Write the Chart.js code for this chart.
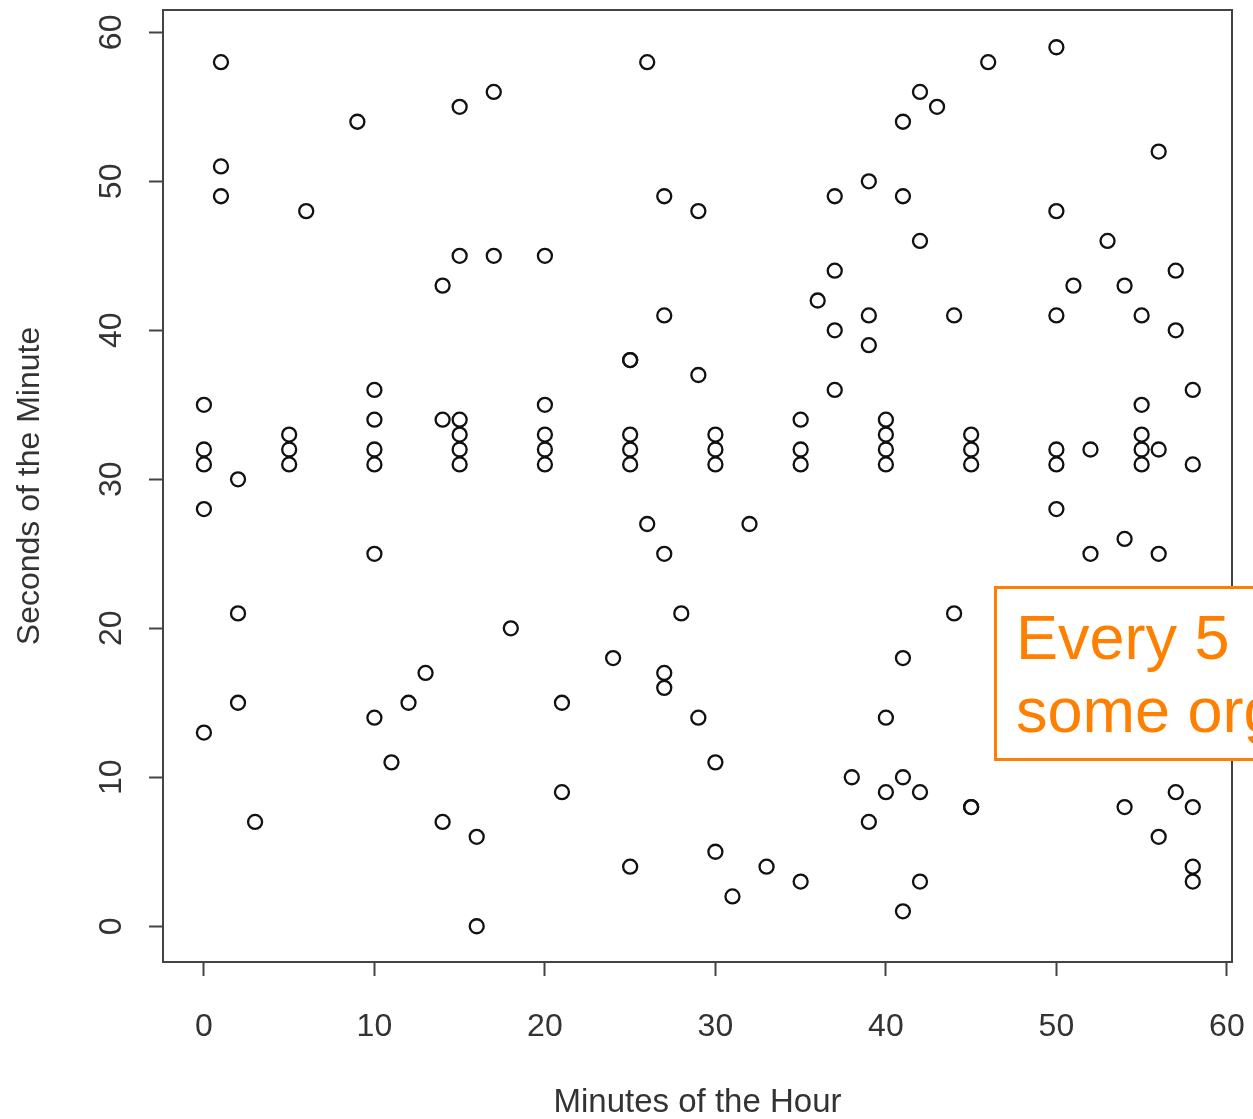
<!DOCTYPE html>
<html>
<head>
<meta charset="utf-8">
<script src="https://cdn.jsdelivr.net/npm/chart.js@4.4.1/dist/chart.umd.min.js"></script>
<style>
  html, body { margin: 0; padding: 0; background: #fff; }
  #wrap { position: relative; width: 1253px; height: 1119px; overflow: hidden; }
  #note {
    position: absolute; left: 994px; top: 586px; width: 320px; height: 175px;
    box-sizing: border-box; border: 3px solid #ff8000; background: #fff;
    color: #ff8000; font-family: 'Liberation Sans', Arial, sans-serif;
    font-size: 63px; line-height: 73px; padding: 12px 0 0 19px; white-space: nowrap;
  }
</style>
</head>
<body>
<div id="wrap">
  <canvas id="scatterChart" width="1253" height="1119"></canvas>
  <div id="note">Every 5<br>some org</div>
</div>
<script>
// 目盛り
const xTicks = [0, 10, 20, 30, 40, 50, 60];
const yTicks = [0, 10, 20, 30, 40, 50, 60];

// 観測点（分, 秒）— 同じ位置の重なりも含む
const minutes = [
  0, 0, 0, 0, 0,
  1, 1, 1,
  2, 2, 2,
  3,
  5, 5, 5,
  6, 9,
  10, 10, 10, 10, 10, 10,
  11, 12, 13,
  14, 14, 14,
  15, 15, 15, 15, 15, 15,
  16, 16,
  17, 17,
  18,
  20, 20, 20, 20, 20,
  21, 21,
  24,
  25, 25, 25, 25, 25, 25,
  26, 26,
  27, 27, 27, 27, 27,
  28,
  29, 29, 29,
  30, 30, 30, 30, 30,
  31, 32, 33,
  35, 35, 35, 35,
  36,
  37, 37, 37, 37,
  38,
  39, 39, 39, 39,
  40, 40, 40, 40, 40, 40,
  41, 41, 41, 41, 41,
  42, 42, 42, 42,
  43,
  44, 44,
  45, 45, 45, 45, 45,
  46,
  50, 50, 50, 50, 50, 50,
  51,
  52, 52,
  53,
  54, 54, 54,
  55, 55, 55, 55, 55,
  56, 56, 56, 56,
  57, 57, 57,
  58, 58, 58, 58, 58
];
const seconds = [
  35, 32, 31, 28, 13,
  58, 51, 49,
  30, 21, 15,
  7,
  33, 32, 31,
  48, 54,
  36, 34, 32, 31, 25, 14,
  11, 15, 17,
  43, 34, 7,
  55, 45, 34, 33, 32, 31,
  6, 0,
  56, 45,
  20,
  45, 35, 33, 32, 31,
  15, 9,
  18,
  38, 38, 33, 32, 31, 4,
  58, 27,
  49, 41, 25, 17, 16,
  21,
  48, 37, 14,
  33, 32, 31, 11, 5,
  2, 27, 4,
  34, 32, 31, 3,
  42,
  49, 44, 40, 36,
  10,
  50, 41, 39, 7,
  34, 33, 32, 31, 14, 9,
  54, 49, 18, 10, 1,
  56, 46, 9, 3,
  55,
  41, 21,
  33, 32, 31, 8, 8,
  58,
  59, 48, 41, 32, 31, 28,
  43,
  32, 25,
  46,
  43, 26, 8,
  41, 35, 33, 32, 31,
  52, 32, 25, 6,
  44, 40, 9,
  36, 31, 8, 4, 3
];

const axisFont = { family: "'Liberation Sans', Arial, sans-serif", size: 32, lineHeight: 1.2 };

// プロット領域の枠線
const framePlugin = {
  id: 'frame',
  afterDraw(chart) {
    const { ctx, chartArea: a } = chart;
    ctx.save();
    ctx.strokeStyle = '#444';
    ctx.lineWidth = 2;
    ctx.strokeRect(a.left, a.top, a.right - a.left, a.bottom - a.top);
    ctx.restore();
  }
};

new Chart(document.getElementById('scatterChart'), {
  type: 'scatter',
  data: {
    datasets: [{
      data: minutes.map((m, i) => ({ x: m, y: seconds[i] })),
      pointRadius: 7,
      pointHoverRadius: 7,
      pointBorderWidth: 2.3,
      pointBorderColor: '#111',
      pointBackgroundColor: 'rgba(0,0,0,0)'
    }]
  },
  options: {
    responsive: false,
    animation: false,
    layout: { padding: { top: 10, right: 21, left: 0, bottom: 0 } },
    plugins: { legend: { display: false }, tooltip: { enabled: false } },
    scales: {
      x: {
        type: 'linear',
        min: -2.4,
        max: 60.3,
        afterBuildTicks: s => { s.ticks = xTicks.map(v => ({ value: v })); },
        afterFit: s => { s.height = 157; s.paddingLeft = 0; s.paddingRight = 0; },
        ticks: { font: axisFont, color: '#333', padding: 32 },
        grid: { drawOnChartArea: false, drawTicks: true, tickLength: 14, tickWidth: 2, tickColor: '#444' },
        border: { display: true, color: '#444', width: 2 },
        title: {
          display: true,
          text: 'Minutes of the Hour',
          color: '#333',
          font: { family: "'Liberation Sans', Arial, sans-serif", size: 33, lineHeight: 1 },
          padding: { top: 0, bottom: 0 }
        }
      },
      y: {
        type: 'linear',
        min: -2.4,
        max: 61.5,
        afterBuildTicks: s => { s.ticks = yTicks.map(v => ({ value: v })); },
        afterFit: s => { s.width = 163; s.paddingTop = 0; s.paddingBottom = 0; },
        ticks: { font: axisFont, color: '#333', padding: 19, minRotation: 90, maxRotation: 90, crossAlign: 'center' },
        grid: { drawOnChartArea: false, drawTicks: true, tickLength: 14, tickWidth: 2, tickColor: '#444' },
        border: { display: true, color: '#444', width: 2 },
        title: {
          display: true,
          text: 'Seconds of the Minute',
          color: '#333',
          font: { family: "'Liberation Sans', Arial, sans-serif", size: 32, lineHeight: 1 },
          padding: { top: 14, bottom: 0 }
        }
      }
    }
  },
  plugins: [framePlugin]
});
</script>
</body>
</html>
